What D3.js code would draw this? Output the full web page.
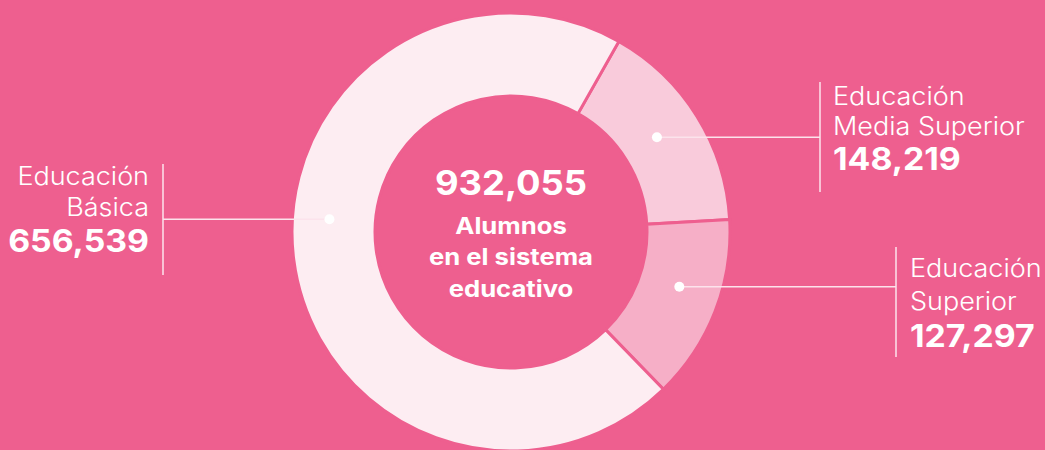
<!DOCTYPE html>
<html>
<head>
<meta charset="utf-8">
<script src="https://cdn.jsdelivr.net/npm/d3@7"></script>
<style>
  html, body { margin: 0; padding: 0; background: #EE5F8F; }
  svg { display: block; }
  text { font-family: Inter, "Open Sans", sans-serif; fill: #ffffff; }
</style>
</head>
<body>
<svg id="chart" width="1045" height="450"></svg>
<script>
// ---- data ----
const categories = ["Educación Media Superior", "Educación Superior", "Educación Básica"];
const labelLines = [["Educación", "Media Superior"], ["Educación", "Superior"], ["Educación", "Básica"]];
const values = [148219, 127297, 656539];
const totalLabel = "932,055";
const centerLines = ["Alumnos", "en el sistema", "educativo"];

// ---- layout / style ----
const W = 1045, H = 450;
const cx = 511, cy = 232, outerR = 219, innerR = 136;
const colors = ["#F9CBDB", "#F6AFC7", "#FDEDF2"];
const bg = "#EE5F8F";
const startDeg = 29.5;
const labelLayout = [
  { dotDeg: 57,  dotR: 174, ruleX: 820, ruleY0: 82,  ruleY1: 192, textX: 833, anchor: "start", base: [105, 135, 170] },
  { dotDeg: 108, dotR: 177, ruleX: 896, ruleY0: 247, ruleY1: 357, textX: 910, anchor: "start", base: [277, 310, 347] },
  { dotDeg: 274, dotR: 182, ruleX: 163, ruleY0: 164, ruleY1: 275, textX: 149, anchor: "end",   base: [185, 216, 252] }
];
const stretchLight = 1.08, stretchBold = 1.09, stretchCenterBig = 1.07, stretchCenterSmall = 1.14;

const svg = d3.select("#chart");
svg.append("rect").attr("width", W).attr("height", H).attr("fill", bg);

const rad = d => d * Math.PI / 180;
const pie = d3.pie().sort(null).value(d => d)
  .startAngle(rad(startDeg)).endAngle(rad(startDeg) + 2 * Math.PI);
const arcs = pie(values);
const arc = d3.arc().innerRadius(innerR).outerRadius(outerR);

const g = svg.append("g").attr("transform", `translate(${cx},${cy})`);
g.selectAll("path.slice").data(arcs).join("path")
  .attr("class", "slice")
  .attr("d", arc)
  .attr("fill", (d, i) => colors[i])
  .attr("stroke", bg)
  .attr("stroke-width", 3)
  .attr("stroke-linejoin", "miter");

function addText(x, y, txt, size, weight, anchor, sx) {
  svg.append("text")
    .attr("transform", `translate(${x},${y}) scale(${sx},1)`)
    .attr("text-anchor", anchor).attr("font-size", size).attr("font-weight", weight)
    .text(txt);
}

const fmt = d3.format(",");
labelLayout.forEach((L, i) => {
  const a = rad(L.dotDeg);
  const dx = cx + L.dotR * Math.sin(a), dy = cy - L.dotR * Math.cos(a);
  svg.append("line").attr("x1", dx).attr("y1", dy).attr("x2", L.ruleX).attr("y2", dy)
    .attr("stroke", "#FCE3EC").attr("stroke-width", 1.5);
  svg.append("line").attr("x1", L.ruleX).attr("y1", L.ruleY0).attr("x2", L.ruleX).attr("y2", L.ruleY1)
    .attr("stroke", "#FCE3EC").attr("stroke-width", 1.5);
  svg.append("circle").attr("cx", dx).attr("cy", dy).attr("r", 5).attr("fill", "#ffffff");
  labelLines[i].forEach((t, j) => addText(L.textX, L.base[j], t, 25, 300, L.anchor, stretchLight));
  addText(L.textX, L.base[2], fmt(values[i]), 31, 700, L.anchor, stretchBold);
});

addText(cx, 195, totalLabel, 34, 700, "middle", stretchCenterBig);
centerLines.forEach((t, j) => addText(cx, 233.5 + j * 31.5, t, 22.5, 700, "middle", stretchCenterSmall));
</script>
</body>
</html>
